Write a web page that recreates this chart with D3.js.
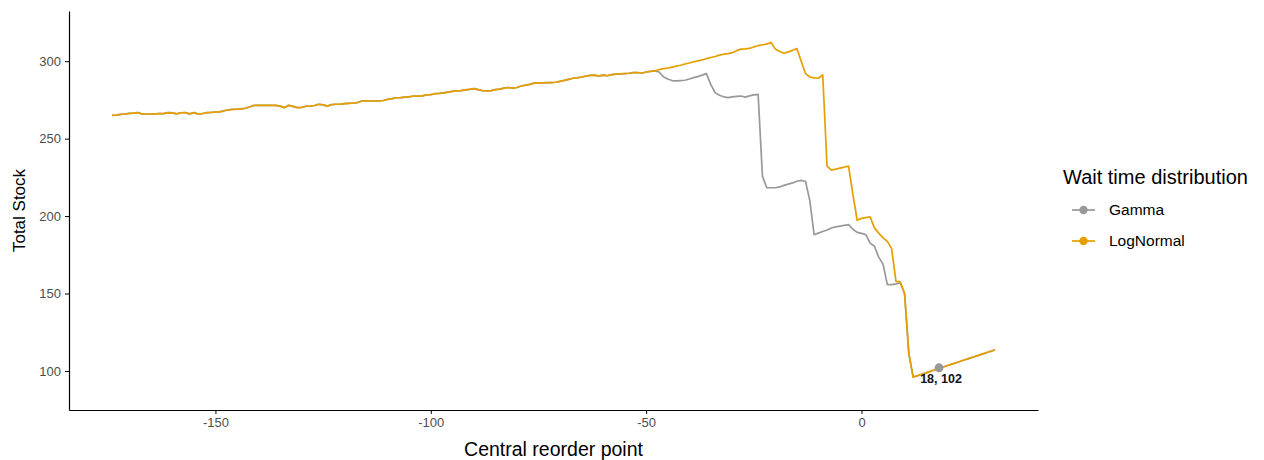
<!DOCTYPE html>
<html>
<head>
<meta charset="utf-8">
<script src="https://cdn.jsdelivr.net/npm/d3@7.9.0/dist/d3.min.js"></script>
<style>
  html, body { margin: 0; padding: 0; background: #fff; }
  svg text { font-family: "Liberation Sans", Arial, Helvetica, sans-serif; }
  .axis path, .axis line { stroke: #000; }
  .axis text { fill: #4d4d4d; font-size: 13px; }
</style>
</head>
<body>
<div id="chart"></div>
<script>
// ---- data ----
const reorderStart = -174;   // first central reorder point on the x axis

// both distributions overlap here (x = -174 .. -48)
const sharedHead = [
  265.0, 265.2, 265.7, 265.9, 266.3, 266.5, 266.8, 265.9, 265.9, 265.9,
  266.0, 266.1, 266.1, 266.8, 266.6, 266.0, 266.7, 266.8, 266.0, 266.8,
  265.9, 266.2, 266.8, 266.9, 267.2, 267.3, 268.0, 268.6, 268.9, 269.0,
  269.2, 269.6, 270.6, 271.5, 271.5, 271.5, 271.5, 271.5, 271.5, 271.0,
  270.0, 271.5, 270.8, 270.0, 270.2, 270.9, 271.0, 271.4, 272.2, 271.8,
  271.0, 272.0, 272.2, 272.3, 272.6, 272.8, 273.0, 273.3, 274.3, 274.3,
  274.3, 274.3, 274.3, 274.6, 275.4, 275.8, 276.4, 276.5, 276.8, 277.0,
  277.5, 277.4, 277.6, 278.2, 278.4, 279.0, 279.2, 279.5, 280.0, 280.5,
  280.8, 281.0, 281.5, 281.8, 282.3, 281.6, 281.0, 280.8, 281.0, 281.6,
  282.0, 282.6, 283.0, 282.6, 283.0, 284.0, 284.5, 285.0, 285.8, 286.0,
  286.0, 286.1, 286.2, 286.4, 287.0, 287.6, 288.3, 289.0, 289.2, 289.8,
  290.4, 290.8, 291.0, 290.4, 291.0, 290.6, 291.3, 291.6, 291.8, 292.0,
  292.2, 292.6, 292.7, 292.2, 293.0, 293.4, 293.7
];

// x = -47 .. 11
const gammaMid = [
  293.0, 290.0, 288.5, 287.5, 287.3, 287.5, 287.7, 288.5, 289.4, 290.0,
  291.0, 292.0, 285.0, 279.7, 278.0, 277.0, 276.5, 277.0, 277.3, 277.5,
  276.8, 277.6, 278.2, 278.6, 225.8, 218.3, 218.3, 218.3, 218.8, 219.8,
  220.6, 221.4, 222.5, 223.0, 222.5, 210.0, 188.0, 189.0, 190.0, 191.0,
  192.3, 193.0, 193.5, 194.0, 194.5, 191.5, 189.5, 188.8, 188.0, 182.5,
  180.5, 173.5, 169.0, 155.7, 155.7, 156.2, 156.8, 150.0, 111.0
];

const logNormalMid = [
  294.6, 295.2, 295.5, 296.2, 296.8, 297.4, 298.2, 298.8, 299.6, 300.2,
  300.8, 301.7, 302.4, 303.0, 303.9, 304.5, 304.9, 305.5, 306.8, 307.8,
  308.0, 308.3, 309.2, 310.0, 310.6, 311.0, 312.1, 307.8, 306.2, 305.1,
  306.0, 307.0, 308.2, 300.0, 292.0, 289.8, 289.2, 289.0, 291.1, 232.3,
  229.7, 230.3, 231.0, 231.6, 232.3, 214.0, 197.3, 198.5, 199.0, 199.5,
  192.4, 189.0, 185.9, 183.7, 179.0, 157.8, 157.5, 150.0, 111.0
];

// overlap again (x = 12 .. 31)
const sharedTail = [
  96.0, 96.9, 97.8, 98.8, 99.7, 100.8, 101.8, 102.6, 103.5, 104.4,
  105.3, 106.3, 107.2, 108.1, 109.0, 109.9, 110.9, 111.8, 112.7, 113.6
];

const seriesNames  = ['Gamma', 'LogNormal'];
const seriesColors = ['#999999', '#E69F00'];
const xTicks = [-150, -100, -50, 0];
const yTicks = [100, 150, 200, 250, 300];
const optimum = { x: 18, y: 102, label: '18, 102' };

// ---- build series ----
function toPoints(values) {
  return values.map((v, i) => ({ x: reorderStart + i, y: v }));
}
const series = [
  { name: seriesNames[0], color: seriesColors[0], points: toPoints(sharedHead.concat(gammaMid, sharedTail)) },
  { name: seriesNames[1], color: seriesColors[1], points: toPoints(sharedHead.concat(logNormalMid, sharedTail)) },
];

// ---- chart ----
const width = 1264, height = 460;
const panel = { left: 69, right: 1038, top: 11, bottom: 410 };

const svg = d3.select('#chart').append('svg')
  .attr('width', width)
  .attr('height', height);

const xScale = d3.scaleLinear().domain([-184.0, 40.98]).range([panel.left, panel.right]);
const yScale = d3.scaleLinear().domain([74.8, 332.4]).range([panel.bottom, panel.top]);

// axes (plain hyphen for negatives, like R)
const xAxis = d3.axisBottom(xScale).tickValues(xTicks).tickFormat(d => String(d))
  .tickSize(4).tickPadding(4).tickSizeOuter(0);
const yAxis = d3.axisLeft(yScale).tickValues(yTicks).tickFormat(d => String(d))
  .tickSize(4).tickPadding(4).tickSizeOuter(0);

svg.append('g')
  .attr('class', 'axis x-axis')
  .attr('transform', `translate(0,${panel.bottom})`)
  .call(xAxis)
  .call(g => g.select('.domain').attr('stroke-width', 1.2))
  .call(g => g.selectAll('.tick line').attr('stroke', '#333'));

svg.append('g')
  .attr('class', 'axis y-axis')
  .attr('transform', `translate(${panel.left},0)`)
  .call(yAxis)
  .call(g => g.select('.domain').attr('stroke-width', 1.2))
  .call(g => g.selectAll('.tick line').attr('stroke', '#333'));

// lines
const line = d3.line().x(d => xScale(d.x)).y(d => yScale(d.y));
svg.append('g').attr('class', 'lines')
  .selectAll('path')
  .data(series)
  .join('path')
  .attr('d', d => line(d.points))
  .attr('fill', 'none')
  .attr('stroke', d => d.color)
  .attr('stroke-width', 1.7)
  .attr('stroke-linejoin', 'round');

// optimum marker + label
svg.append('circle')
  .attr('cx', xScale(optimum.x))
  .attr('cy', yScale(optimum.y))
  .attr('r', 4.5)
  .attr('fill', seriesColors[0]);

svg.append('text')
  .attr('x', xScale(optimum.x) + 2)
  .attr('y', yScale(optimum.y) + 15)
  .attr('text-anchor', 'middle')
  .attr('font-size', 12.5)
  .attr('font-weight', 'bold')
  .attr('fill', '#111')
  .text(optimum.label);

// axis titles
svg.append('text')
  .attr('x', (panel.left + panel.right) / 2)
  .attr('y', 456)
  .attr('text-anchor', 'middle')
  .attr('font-size', 19.5)
  .attr('fill', '#000')
  .text('Central reorder point');

svg.append('text')
  .attr('transform', `translate(25,${(panel.top + panel.bottom) / 2}) rotate(-90)`)
  .attr('text-anchor', 'middle')
  .attr('font-size', 17)
  .attr('fill', '#000')
  .text('Total Stock');

// legend
const legend = svg.append('g').attr('transform', 'translate(1063,0)');
legend.append('text')
  .attr('x', 0).attr('y', 184)
  .attr('font-size', 20)
  .attr('fill', '#000')
  .text('Wait time distribution');

const keys = legend.selectAll('g.key')
  .data(series)
  .join('g')
  .attr('class', 'key')
  .attr('transform', (d, i) => `translate(0,${210 + i * 31})`);

keys.append('line')
  .attr('x1', 9).attr('x2', 32)
  .attr('stroke', d => d.color)
  .attr('stroke-width', 1.7);
keys.append('circle')
  .attr('cx', 20.5).attr('r', 4.2)
  .attr('fill', d => d.color);
keys.append('text')
  .attr('x', 46).attr('y', 5)
  .attr('font-size', 15.5)
  .attr('fill', '#000')
  .text(d => d.name);
</script>
</body>
</html>
